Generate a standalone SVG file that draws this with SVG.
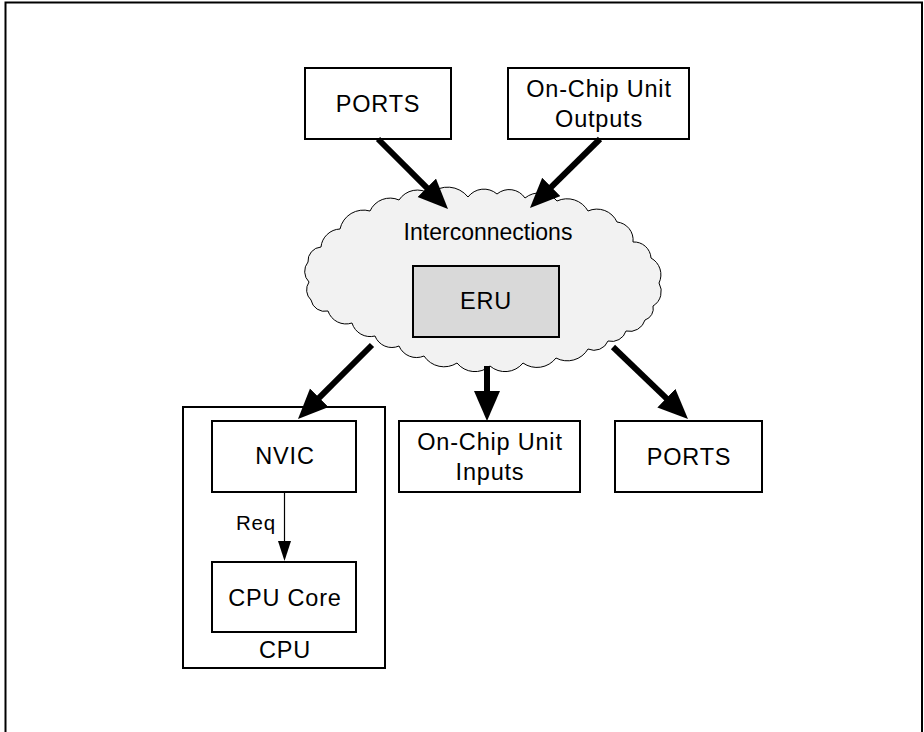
<svg xmlns="http://www.w3.org/2000/svg" width="924" height="732" viewBox="0 0 924 732">
<style>
text{font-family:"Liberation Sans",Arial,sans-serif;font-size:23.5px;letter-spacing:0.8px;text-anchor:middle;fill:#000}
.box{fill:#fff;stroke:#000;stroke-width:2}
.thick{stroke:#000;stroke-width:6;fill:none;marker-end:url(#bigHead)}
.thin{stroke:#000;stroke-width:1.2;fill:none;marker-end:url(#smallHead)}
</style>
<defs>
<marker id="bigHead" markerUnits="userSpaceOnUse" markerWidth="32" markerHeight="28" refX="2" refY="13" orient="auto">
<path d="M0,0 L30,13 L0,26 z" fill="#000"/>
</marker>
<marker id="smallHead" markerUnits="userSpaceOnUse" markerWidth="22" markerHeight="14" refX="1" refY="6.5" orient="auto">
<path d="M0,0 L20,6.5 L0,13 z" fill="#000"/>
</marker>
</defs>
<rect x="5.5" y="2.5" width="916.5" height="760" fill="none" stroke="#000" stroke-width="2"/>

<g id="cloud">
<path d="M308,262 A14,14 0 0 1 321,247 A20,20 0 0 1 340,229 A24,24 0 0 1 370,211 A22,22 0 0 1 399,200 A22,22 0 0 1 430,194 A26,26 0 0 1 468,197 A20,20 0 0 1 497,194 A19,19 0 0 1 525,198 A23,23 0 0 1 557,201 A24,24 0 0 1 588,211 A22,22 0 0 1 617,222 A18,18 0 0 1 633,242 A17,17 0 0 1 651,258 A19,19 0 0 1 659,283 A17,17 0 0 1 653,306 A12,12 0 0 1 645,320 A16,16 0 0 1 626,331 A15,15 0 0 1 608,341 A15,15 0 0 1 588,349 A24,24 0 0 1 556,358 A24,24 0 0 1 523,363 A23,23 0 0 1 490,366 A23,23 0 0 1 457,363 A24,24 0 0 1 424,356 A19,19 0 0 1 399,346 A18,18 0 0 1 375,336 A19,19 0 0 1 352,323 A19,19 0 0 1 328,311 A14,14 0 0 1 311,300 A14,14 0 0 1 309,282 A15,15 0 0 1 308,262 Z" fill="#f2f2f2" stroke="#000" stroke-width="1"/>
<text x="488" y="240" style="font-size:23px;letter-spacing:0">Interconnections</text>
</g>

<g id="eru">
<rect x="413" y="266" width="146" height="71" fill="#d9d9d9" stroke="#000" stroke-width="2"/>
<text x="486" y="309">ERU</text>
</g>

<g id="ports-in">
<rect class="box" x="305" y="68" width="146" height="71"/>
<text x="378" y="112">PORTS</text>
</g>

<g id="onchip-outputs">
<rect class="box" x="508" y="68" width="181" height="71"/>
<text x="599" y="97">On-Chip Unit</text>
<text x="599" y="127">Outputs</text>
</g>

<g id="cpu">
<rect class="box" x="183" y="407" width="202" height="261"/>
<text x="285" y="658">CPU</text>
</g>

<g id="nvic">
<rect class="box" x="212" y="421" width="144" height="71"/>
<text x="285" y="464">NVIC</text>
</g>

<g id="cpu-core">
<rect class="box" x="212" y="562" width="144" height="70"/>
<text x="285" y="606">CPU Core</text>
</g>

<g id="onchip-inputs">
<rect class="box" x="399" y="421" width="181" height="71"/>
<text x="490" y="450">On-Chip Unit</text>
<text x="490" y="480">Inputs</text>
</g>

<g id="ports-out">
<rect class="box" x="615" y="421" width="147" height="71"/>
<text x="689" y="465">PORTS</text>
</g>

<g id="connectors">
<line class="thick" x1="378" y1="139" x2="428.2" y2="189.2"/>
<line class="thick" x1="600" y1="139" x2="549.9" y2="188.3"/>
<line class="thick" x1="372" y1="345" x2="317.8" y2="399.2"/>
<line class="thick" x1="487" y1="366" x2="487" y2="393"/>
<line class="thick" x1="613" y1="347" x2="667.8" y2="399.6"/>
<line class="thin" x1="284.5" y1="492" x2="284.5" y2="542"/>
<text x="256" y="530" style="font-size:20.5px">Req</text>
</g>
</svg>
